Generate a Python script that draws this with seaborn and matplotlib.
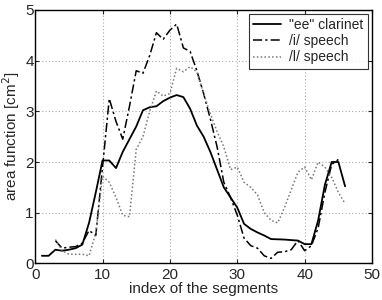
import numpy as np
import pandas as pd
import seaborn as sns
import matplotlib.pyplot as plt

# area function values, one per segment index
clarinet_x = list(range(1, 47))
clarinet_y = [0.15, 0.15, 0.27, 0.25, 0.27, 0.30, 0.37, 0.80, 1.40, 2.03,
              2.03, 1.88, 2.20, 2.45, 2.70, 3.02, 3.08, 3.10, 3.20, 3.27,
              3.32, 3.28, 3.05, 2.72, 2.50, 2.20, 1.85, 1.50, 1.30, 1.10,
              0.78, 0.68, 0.61, 0.55, 0.48, 0.475, 0.47, 0.46, 0.45, 0.38,
              0.38, 0.85, 1.55, 2.00, 2.00, 1.52]

i_x = list(range(3, 46))
i_y = [0.45, 0.30, 0.32, 0.33, 0.40, 0.65, 0.55, 1.90, 3.25, 2.80,
       2.45, 3.10, 3.80, 3.75, 4.10, 4.55, 4.42, 4.60, 4.72, 4.25,
       4.18, 3.80, 3.35, 2.85, 2.30, 1.60, 1.30, 0.95, 0.50, 0.35,
       0.30, 0.15, 0.10, 0.22, 0.23, 0.27, 0.45, 0.25, 0.35, 0.70,
       1.40, 1.95, 2.05]

I_x = list(range(3, 47))
I_y = [0.47, 0.25, 0.18, 0.18, 0.18, 0.15, 0.60, 1.72, 1.60, 1.30,
       0.95, 0.92, 2.25, 2.50, 3.00, 3.40, 3.30, 3.35, 3.85, 3.78,
       3.88, 3.78, 3.35, 2.95, 2.60, 2.30, 1.85, 1.90, 1.60, 1.50,
       1.35, 1.00, 0.85, 0.80, 1.10, 1.45, 1.80, 1.90, 1.65, 2.00,
       1.90, 1.70, 1.40, 1.18]

labels = ['"ee" clarinet', '/i/ speech', '/l/ speech']

sns.set_style("ticks")
plt.rcParams['font.family'] = ['Liberation Sans', 'DejaVu Sans']
plt.rcParams['font.size'] = 9

fig = plt.figure(figsize=(3.82, 3.0), dpi=100)
ax = fig.add_axes([0.092, 0.122, 0.882, 0.845])

sns.lineplot(x=clarinet_x, y=clarinet_y, ax=ax, color="black", lw=1.3,
             label=labels[0])
sns.lineplot(x=i_x, y=i_y, ax=ax, color="black", lw=1.1, linestyle=(0, (6, 2, 1.5, 2)),
             label=labels[1])
sns.lineplot(x=I_x, y=I_y, ax=ax, color="#777777", lw=1.1, linestyle=(0, (1, 1.5)),
             label=labels[2])

ax.set_xlim(0, 50)
ax.set_ylim(0, 5)
ax.set_xticks([0, 10, 20, 30, 40, 50])
ax.set_yticks([0, 1, 2, 3, 4, 5])
ax.grid(True, color="#aaaaaa", linestyle=(0, (1, 2)), lw=0.8)
ax.tick_params(direction="in", length=3, labelsize=11, top=True, right=True)
ax.tick_params(axis="x", pad=3.5)
ax.tick_params(axis="y", pad=1)
for s in ax.spines.values():
    s.set_linewidth(1.0)
    s.set_color("black")
    s.set_visible(True)

ax.set_xlabel("index of the segments", fontsize=11, labelpad=0)
ax.set_ylabel("area function [cm$^2$]", fontsize=11, labelpad=2)

leg = ax.legend(loc="upper right", fontsize=10, frameon=True, fancybox=False,
                borderaxespad=0.3, handlelength=2.0, borderpad=0.3, labelspacing=0.15,
                handletextpad=0.6)
leg.get_frame().set_edgecolor("black")
leg.get_frame().set_linewidth(0.8)

fig.savefig("out.png", dpi=100)
